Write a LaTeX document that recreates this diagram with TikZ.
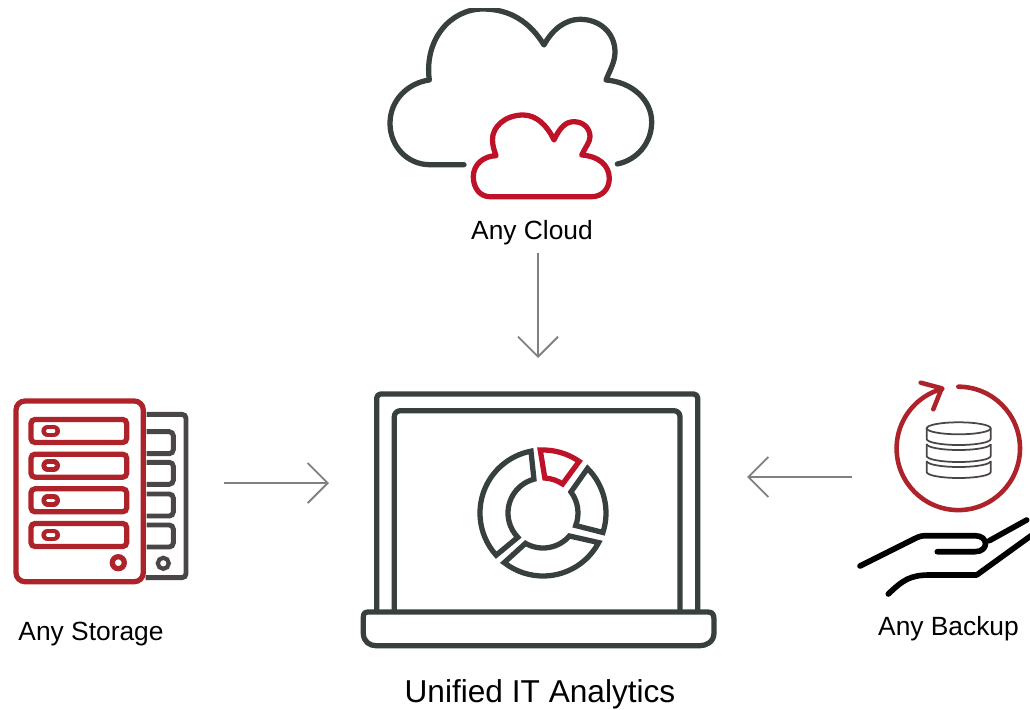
\documentclass[tikz,border=0pt]{standalone}
\usepackage{fontspec}
\setmainfont{Liberation Sans}
\usetikzlibrary{arrows.meta}
\definecolor{slate}{HTML}{373F3F}
\definecolor{crimson}{HTML}{BE1229}
\definecolor{brick}{HTML}{AE2329}
\definecolor{ash}{HTML}{4A4647}
\tikzset{
  darkline/.style={slate, line width=1.5pt, line join=round},
  redline/.style={crimson, line width=1.5pt, line join=round},
  brickline/.style={brick, line width=1.5pt, rounded corners=.04cm},
  ashline/.style={ash, line width=1.4pt, rounded corners=.04cm},
  handline/.style={black, line width=1.6pt, line cap=round, line join=round},
  flowarrow/.style={gray, line width=.55pt, -{Straight Barb[length=2mm,width=4mm]}},
  caption/.style={text=black, font=\fontsize{7.5}{9}\selectfont, inner sep=0pt}
}
\begin{document}
\begin{tikzpicture}[y=-1cm]
\useasboundingbox (0,0) rectangle (10.3,7.1);

\begin{scope}
\clip (0,.08) rectangle (10.3,7.1);
\draw[darkline, line cap=round] (4.64,1.647) -- (4.3,1.647) .. controls (4.07,1.647) and (3.9,1.46) .. (3.9,1.233)
  .. controls (3.9,1) and (4.08,.83) .. (4.293,.8) .. controls (4.24,.4) and (4.5,.09) .. (4.83,.09)
  .. controls (5.1,.09) and (5.3,.22) .. (5.44,.45) .. controls (5.52,.3) and (5.65,.193) .. (5.8,.193)
  .. controls (6,.193) and (6.15,.33) .. (6.15,.52) .. controls (6.15,.62) and (6.1,.7) .. (6.06,.8)
  .. controls (6.32,.82) and (6.517,1) .. (6.517,1.22) .. controls (6.517,1.43) and (6.37,1.6) .. (6.173,1.64);
\end{scope}
\draw[redline] (4.9,1.967) -- (5.917,1.967) .. controls (6.02,1.967) and (6.093,1.89) .. (6.093,1.783)
  .. controls (6.093,1.65) and (5.98,1.56) .. (5.817,1.55) .. controls (5.86,1.46) and (5.9,1.42) .. (5.9,1.367)
  .. controls (5.9,1.28) and (5.83,1.217) .. (5.74,1.217) .. controls (5.66,1.217) and (5.6,1.27) .. (5.54,1.4)
  .. controls (5.47,1.25) and (5.36,1.15) .. (5.233,1.15) .. controls (5.05,1.15) and (4.92,1.27) .. (4.925,1.4)
  .. controls (4.925,1.47) and (4.95,1.52) .. (4.96,1.557) .. controls (4.83,1.56) and (4.733,1.65) .. (4.733,1.767)
  .. controls (4.733,1.88) and (4.8,1.967) .. (4.9,1.967) -- cycle;
\node[caption] (cloudlabel) at (5.32,2.33) {Any Cloud};

\draw[darkline, rounded corners=.04cm] (3.767,6.12) -- (3.767,3.94) -- (6.977,3.94) -- (6.977,6.12);
\draw[darkline, rounded corners=.06cm] (3.943,6.12) -- (3.943,4.107) -- (6.8,4.107) -- (6.8,6.12);
\draw[darkline] (3.633,6.2) .. controls (3.633,6.15) and (3.633,6.12) .. (3.68,6.12) -- (7.08,6.12)
  .. controls (7.13,6.12) and (7.14,6.15) .. (7.14,6.2) -- (7.14,6.33) .. controls (7.14,6.42) and (7.06,6.457) .. (7,6.457)
  -- (3.76,6.457) .. controls (3.7,6.457) and (3.633,6.42) .. (3.633,6.33) -- cycle;

\coordinate (donut) at (5.43,5.13);
\foreach \oa/\ob/\ia/\ib/\col in {-92.5/-55/-56/-87/crimson, -45/18/21/-37/slate, 28/128/120/41/slate, 138/259/255/136/slate}
  \draw[\col, line width=1.5pt, line join=miter] ([shift={(\oa:.63)}]donut) arc[start angle=\oa, end angle=\ob, radius=.63]
    -- ([shift={(\ia:.35)}]donut) arc[start angle=\ia, end angle=\ib, radius=.35] -- cycle;
\node[caption, font=\fontsize{9}{11}\selectfont] (laptoplabel) at (5.4,6.94) {Unified IT Analytics};

\draw[ashline] (1.467,4.143) -- (1.86,4.143) -- (1.86,5.777) -- (1.457,5.777);
\foreach \y in {4.317,4.623,4.94,5.25}
  \draw[ashline] (1.467,\y) -- (1.733,\y) -- (1.733,\y+.22) -- (1.467,\y+.22);
\draw[ash, line width=1.2pt] (1.633,5.633) circle (.055);

\draw[brickline, rounded corners=.09cm] (.16,4.01) rectangle (1.433,5.817);
\foreach \y in {4.31,4.657,5.003,5.35} {
  \draw[brickline] (.31,{\y-.115}) rectangle (1.267,{\y+.115});
  \draw[brick, line width=3.6pt, line cap=round] (.477,\y) -- (.537,\y);
  \draw[white, line width=.9pt, line cap=round] (.477,\y) -- (.537,\y);
}
\draw[brick, line width=1.5pt] (1.183,5.627) circle (.06);
\node[caption] (storagelabel) at (.91,6.34) {Any Storage};

\draw[brick, line width=1.3pt, line cap=round] (9.583,3.867) arc[start angle=-90, end angle=255, radius=.617];
\draw[brick, line width=1.3pt, line cap=round, line join=round] (9.207,3.827) -- (9.417,3.883) -- (9.333,4.093);
\draw[ash, line width=.5pt] (9.587,4.283) ellipse (.32 and .06);
\draw[ash, line width=.5pt] (9.267,4.283) -- (9.267,4.39) arc[start angle=180, end angle=0, x radius=.32, y radius=.06] -- (9.907,4.283);
\draw[ash, line width=.5pt] (9.267,4.44) arc[start angle=180, end angle=0, x radius=.32, y radius=.06];
\draw[ash, line width=.5pt] (9.267,4.44) -- (9.267,4.56) arc[start angle=180, end angle=0, x radius=.32, y radius=.06] -- (9.907,4.44);
\draw[ash, line width=.5pt] (9.267,4.61) arc[start angle=180, end angle=0, x radius=.32, y radius=.06];
\draw[ash, line width=.5pt] (9.267,4.61) -- (9.267,4.72) arc[start angle=180, end angle=0, x radius=.32, y radius=.06] -- (9.907,4.61);

\draw[handline] (8.6,5.66) -- (9.15,5.385) .. controls (9.2,5.36) and (9.22,5.357) .. (9.27,5.357) -- (9.75,5.357) .. controls (9.89,5.357) and (9.89,5.517) .. (9.75,5.517) -- (9.373,5.517);
\draw[handline] (9.893,5.407) -- (10.267,5.2);
\draw[handline] (8.883,5.94) .. controls (9.03,5.8) and (9.1,5.75) .. (9.3,5.75) -- (9.767,5.75) -- (10.32,5.35);
\node[caption] (backuplabel) at (9.485,6.29) {Any Backup};

\coordinate (cloudend) at (5.38,2.53);
\coordinate (laptoptop) at (5.38,3.58);
\coordinate (storageend) at (2.24,4.83);
\coordinate (laptopleft) at (3.29,4.83);
\coordinate (backupend) at (8.52,4.77);
\coordinate (laptopright) at (7.47,4.77);
\draw[flowarrow] (cloudend) -- (laptoptop);
\draw[flowarrow] (storageend) -- (laptopleft);
\draw[flowarrow] (backupend) -- (laptopright);

\end{tikzpicture}
\end{document}
